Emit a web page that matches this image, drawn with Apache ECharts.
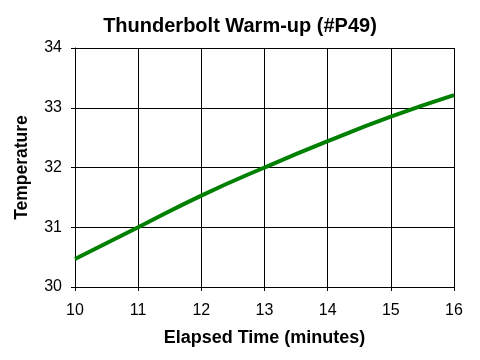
<!DOCTYPE html>
<html>
<head>
<meta charset="utf-8">
<script src="https://cdn.jsdelivr.net/npm/echarts@6/dist/echarts.min.js"></script>
<style>html,body{margin:0;padding:0;background:#fff}#c{width:480px;height:360px}</style>
</head>
<body>
<div id="c"></div>
<script>
const times = [10, 11, 12, 13, 14, 15, 16];
const temperatures = [30.47, 31.0, 31.53, 32.0, 32.44, 32.85, 33.21];
const titleText = 'Thunderbolt Warm-up (#P49)';
const xName = 'Elapsed Time (minutes)';
const yName = 'Temperature';

const font = '"Liberation Sans", Arial, sans-serif';
const chart = echarts.init(document.getElementById('c'), null, {renderer: 'canvas'});
chart.setOption({
  backgroundColor: '#ffffff',
  animation: false,
  title: {
    text: titleText, left: 'center', top: 11,
    textStyle: {fontFamily: font, fontSize: 20, fontWeight: 'bold', color: '#000'}
  },
  grid: {left: 75, right: 26, top: 48, bottom: 73, containLabel: false},
  xAxis: {
    type: 'value', min: 10, max: 16, interval: 1,
    name: xName, nameLocation: 'middle', nameGap: 42,
    nameTextStyle: {fontFamily: font, fontSize: 18, fontWeight: 'bold', color: '#000'},
    axisLine: {show: true, lineStyle: {color: '#000', width: 1}},
    axisTick: {show: true, inside: false, length: 4, lineStyle: {color: '#000'}},
    axisLabel: {fontFamily: font, fontSize: 16, color: '#000', margin: 16},
    splitLine: {show: true, lineStyle: {color: '#000', width: 1}}
  },
  yAxis: {
    type: 'value', min: 30, max: 34, interval: 1,
    name: yName, nameLocation: 'middle', nameGap: 44, nameRotate: 90,
    nameTextStyle: {fontFamily: font, fontSize: 17.5, fontWeight: 'bold', color: '#000'},
    axisLine: {show: true, lineStyle: {color: '#000', width: 1}},
    axisTick: {show: true, inside: false, length: 4, lineStyle: {color: '#000'}},
    axisLabel: {fontFamily: font, fontSize: 16, color: '#000', margin: 13},
    splitLine: {show: true, lineStyle: {color: '#000', width: 1}}
  },
  series: [{
    type: 'line', smooth: true, symbol: 'none',
    data: times.map((t, i) => [t, temperatures[i]]),
    lineStyle: {color: '#008000', width: 4}
  }]
});
</script>
</body>
</html>
